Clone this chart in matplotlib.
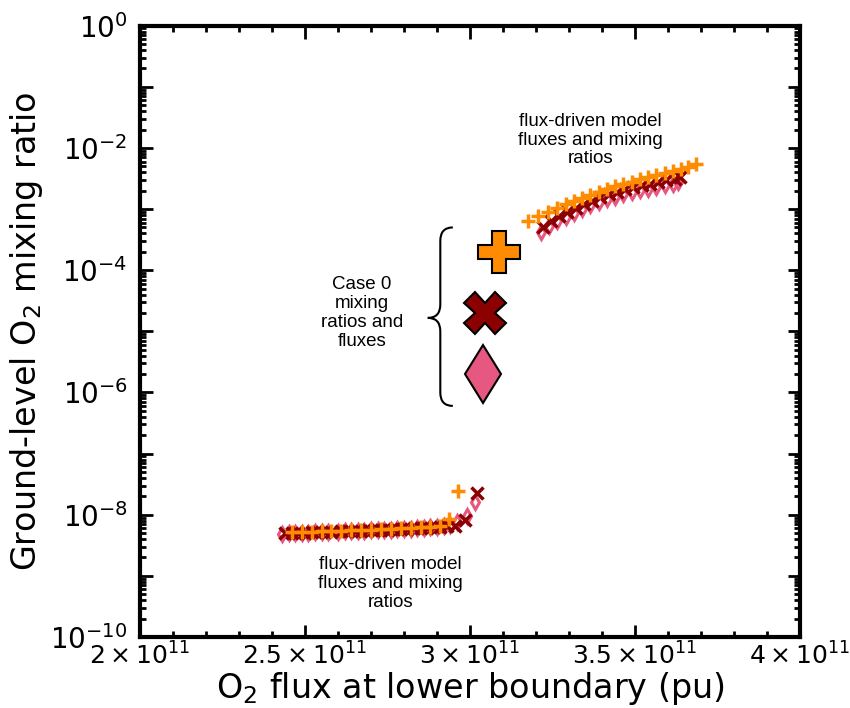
import math

import matplotlib
matplotlib.use("Agg")
import matplotlib.pyplot as plt
from matplotlib.path import Path
from matplotlib.patches import PathPatch
from matplotlib.ticker import FixedLocator, MultipleLocator, FuncFormatter, LogLocator, NullFormatter

# flux in units of 1e11 pu, ground-level O2 mixing ratio
low_pink_x = [2.43, 2.45, 2.47, 2.49, 2.51, 2.53, 2.55, 2.57, 2.60, 2.62, 2.64, 2.66, 2.68, 2.70,
              2.72, 2.74, 2.76, 2.78, 2.80, 2.82, 2.84, 2.86, 2.88, 2.90, 2.92, 2.94, 2.96, 2.99, 3.015]
low_pink_y = [4.9e-9, 5.0e-9, 5.0e-9, 5.1e-9, 5.1e-9, 5.2e-9, 5.2e-9, 5.3e-9, 5.3e-9, 5.4e-9,
              5.4e-9, 5.5e-9, 5.5e-9, 5.6e-9, 5.6e-9, 5.7e-9, 5.7e-9, 5.8e-9, 5.9e-9, 5.9e-9,
              6.0e-9, 6.1e-9, 6.2e-9, 6.3e-9, 6.5e-9, 6.8e-9, 7.5e-9, 9.5e-9, 1.6e-8]
low_red_x = [2.44, 2.46, 2.48, 2.50, 2.52, 2.54, 2.56, 2.58, 2.61, 2.63, 2.65, 2.67, 2.69, 2.71,
             2.73, 2.75, 2.77, 2.79, 2.81, 2.83, 2.85, 2.87, 2.89, 2.91, 2.93, 2.955, 2.985, 3.02]
low_red_y = [5.0e-9, 5.0e-9, 5.1e-9, 5.1e-9, 5.2e-9, 5.2e-9, 5.3e-9, 5.3e-9, 5.4e-9, 5.4e-9,
             5.5e-9, 5.5e-9, 5.6e-9, 5.6e-9, 5.7e-9, 5.7e-9, 5.8e-9, 5.8e-9, 5.9e-9, 6.0e-9,
             6.0e-9, 6.1e-9, 6.2e-9, 6.3e-9, 6.5e-9, 6.6e-9, 8.2e-9, 2.3e-8]
low_orange_x = [2.46, 2.49, 2.52, 2.55, 2.58, 2.61, 2.64, 2.67, 2.70, 2.73, 2.76, 2.79, 2.82,
                2.85, 2.88, 2.91, 2.935, 2.965]
low_orange_y = [5.2e-9, 5.3e-9, 5.3e-9, 5.4e-9, 5.5e-9, 5.5e-9, 5.6e-9, 5.7e-9, 5.7e-9, 5.8e-9,
                5.9e-9, 6.0e-9, 6.1e-9, 6.2e-9, 6.3e-9, 6.5e-9, 8.5e-9, 2.4e-8]

up_orange_x = [3.176, 3.206, 3.236, 3.265, 3.29, 3.315, 3.34, 3.365, 3.39, 3.415, 3.44, 3.465,
               3.49, 3.515, 3.54, 3.565, 3.59, 3.615, 3.64, 3.66, 3.685]
up_orange_y = [6.3e-4, 7.6e-4, 9.1e-4, 1.05e-3, 1.2e-3, 1.35e-3, 1.5e-3, 1.7e-3, 1.9e-3, 2.15e-3,
               2.35e-3, 2.55e-3, 2.8e-3, 3.1e-3, 3.4e-3, 3.6e-3, 3.9e-3, 4.2e-3, 4.5e-3, 4.8e-3, 5.4e-3]
up_red_x = [3.22, 3.245, 3.27, 3.295, 3.32, 3.345, 3.37, 3.395, 3.42, 3.445, 3.47, 3.495, 3.52,
            3.545, 3.57, 3.595, 3.62, 3.636]
up_red_y = [5.1e-4, 6.3e-4, 7.6e-4, 8.9e-4, 1.05e-3, 1.2e-3, 1.38e-3, 1.55e-3, 1.74e-3, 1.9e-3,
            2.1e-3, 2.3e-3, 2.45e-3, 2.6e-3, 2.8e-3, 3.0e-3, 3.15e-3, 3.3e-3]
up_pink_x = [3.215, 3.24, 3.265, 3.29, 3.315, 3.34, 3.365, 3.39, 3.415, 3.44, 3.465, 3.49, 3.515,
             3.54, 3.565, 3.59, 3.615, 3.63]
up_pink_y = [4.2e-4, 5.2e-4, 6.3e-4, 7.4e-4, 8.7e-4, 1.0e-3, 1.15e-3, 1.29e-3, 1.44e-3, 1.58e-3,
             1.74e-3, 1.9e-3, 2.03e-3, 2.16e-3, 2.3e-3, 2.5e-3, 2.6e-3, 2.75e-3]

# Case 0 points (plus, x, diamond)
case0_x = [3.088, 3.045, 3.04]
case0_y = [2e-4, 2e-5, 2e-6]

ORANGE = "#ff8c00"
DARKRED = "#8b0000"
PINK = "#e6587f"

x_ticks = [2.0, 2.5, 3.0, 3.5, 4.0]


def _xfmt(v, pos):
    return rf"${v:g}\times10^{{11}}$"


def _yfmt(v, pos):
    e = int(round(math.log10(v)))
    return rf"$10^{{{e}}}$" if e % 2 == 0 else ""


def main():
    fig = plt.figure(figsize=(8.5, 7.08), dpi=100)
    ax = fig.add_axes([0.1647, 0.1003, 0.7765, 0.8634])

    # small markers: flux-driven runs
    ax.plot(low_pink_x, low_pink_y, "d", ls="none", ms=7, mfc="none", mec=PINK, mew=2.2)
    ax.plot(up_pink_x, up_pink_y, "d", ls="none", ms=7, mfc="none", mec=PINK, mew=2.2)
    ax.plot(low_red_x, low_red_y, "x", ls="none", ms=9, mec=DARKRED, mew=2.5)
    ax.plot(up_red_x, up_red_y, "x", ls="none", ms=9, mec=DARKRED, mew=2.5)
    ax.plot(low_orange_x, low_orange_y, "+", ls="none", ms=10, mec=ORANGE, mew=2.5)
    ax.plot(up_orange_x, up_orange_y, "+", ls="none", ms=10, mec=ORANGE, mew=2.5)

    # big markers: Case 0
    for mk, col, x, y in zip(["P", "X", "d"], [ORANGE, DARKRED, PINK], case0_x, case0_y):
        ax.plot([x], [y], mk, ms=30, mfc=col, mec="black", mew=1.5)

    ax.set_yscale("log")
    ax.set_xlim(2.0, 4.0)
    ax.set_ylim(1e-10, 1)

    ax.xaxis.set_major_locator(FixedLocator(x_ticks))
    ax.xaxis.set_minor_locator(MultipleLocator(0.1))
    ax.xaxis.set_major_formatter(FuncFormatter(_xfmt))
    ax.yaxis.set_major_locator(LogLocator(base=10, numticks=20))
    ax.yaxis.set_minor_locator(LogLocator(base=10, subs=range(2, 10), numticks=20))
    ax.yaxis.set_minor_formatter(NullFormatter())
    ax.yaxis.set_major_formatter(FuncFormatter(_yfmt))

    ax.tick_params(which="both", direction="in", top=True, right=True, width=2)
    ax.tick_params(which="major", length=9)
    ax.tick_params(which="minor", length=4.5)
    ax.tick_params(axis="x", which="major", labelsize=18, pad=4)
    ax.tick_params(axis="y", which="major", labelsize=20, pad=9)
    for sp in ax.spines.values():
        sp.set_linewidth(3)

    ax.set_xlabel(r"O$_2$ flux at lower boundary (pu)", fontsize=24, labelpad=0)
    ax.set_ylabel(r"Ground-level O$_2$ mixing ratio", fontsize=24, labelpad=4)

    # annotations
    ann = dict(family="Liberation Sans", fontsize=13.5, ha="center", va="center",
               linespacing=1.15, transform=ax.transAxes)
    ax.text(0.682, 0.813, "flux-driven model\nfluxes and mixing\nratios", **ann)
    ax.text(0.379, 0.087, "flux-driven model\nfluxes and mixing\nratios", **ann)
    ax.text(0.336, 0.530, "Case 0\nmixing\nratios and\nfluxes", **ann)

    # curly brace around Case 0 markers (axes fraction coords)
    x1, xm, x0 = 0.474, 0.455, 0.436
    yt, yc, yb = 0.670, 0.522, 0.378
    r = 0.022
    verts = [(x1, yt), (xm, yt), (xm, yt - r),
             (xm, yc + r),
             (xm, yc), (x0, yc),
             (xm, yc), (xm, yc - r),
             (xm, yb + r),
             (xm, yb), (x1, yb)]
    codes = [Path.MOVETO, Path.CURVE3, Path.CURVE3,
             Path.LINETO,
             Path.CURVE3, Path.CURVE3,
             Path.CURVE3, Path.CURVE3,
             Path.LINETO,
             Path.CURVE3, Path.CURVE3]
    ax.add_patch(PathPatch(Path(verts, codes), transform=ax.transAxes, fill=False,
                           lw=1.5, ec="black"))

    fig.savefig("out.png", dpi=100)


if __name__ == "__main__":
    main()
